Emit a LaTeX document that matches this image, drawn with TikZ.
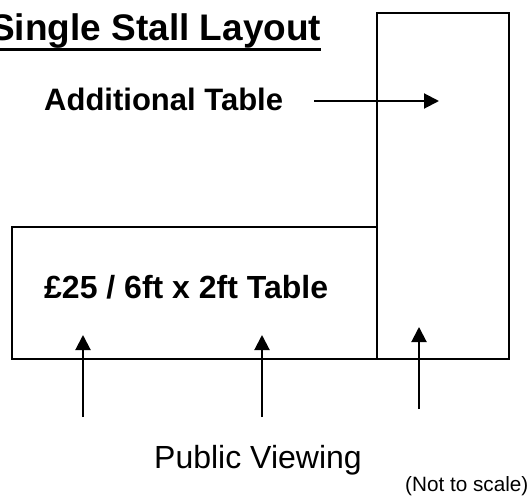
\documentclass[tikz,border=0pt]{standalone}
\usepackage{fontspec}
\setmainfont{Liberation Sans}
\usetikzlibrary{arrows.meta}

\begin{document}
\begin{tikzpicture}[x=1pt, y=-1pt,
    every node/.style={inner sep=0pt, anchor=base west},
    tablebox/.style={line width=2pt},
    pointer/.style={line width=2pt, -{Triangle[width=15pt,length=15pt]}},
    boldlabel/.style={font=\fontsize{32}{38}\selectfont\bfseries}]
  \useasboundingbox (0,0) rectangle (529,497);
  % title
  \node[font=\fontsize{37}{44}\selectfont\bfseries] (title) at (-10,40.5) {Single Stall Layout};
  \draw[line width=3pt] ([yshift=-9pt]title.base west) -- ([yshift=-9pt]title.base east);
  % tables
  \coordinate (wideNW) at (12,227);
  \coordinate (wideSE) at (377,359);
  \coordinate (tallNW) at (377,13);
  \coordinate (tallSE) at (509,359);
  \draw[tablebox] (wideNW) rectangle (wideSE);
  \draw[tablebox] (tallNW) rectangle (tallSE);
  % labels
  \node[font=\fontsize{31}{37}\selectfont\bfseries] (extra) at (44,111) {Additional Table};
  \node[boldlabel] (main) at (44,298) {£25 / 6ft x 2ft Table};
  \node[font=\fontsize{32}{38}\selectfont] (public) at (154,468) {Public Viewing};
  \node[font=\fontsize{20.7}{25}\selectfont] (note) at (405,491) {(Not to scale)};
  % pointer to the additional table
  \coordinate (extratip) at (439,101);
  \draw[pointer, shorten <=31pt] (extra.east |- extratip) -- (extratip);
  % viewing arrows
  \foreach \x/\yt/\yb [count=\i] in {83/335/417, 262/335/417, 419/327/409} {
    \coordinate (view\i) at (\x,\yb);
    \coordinate (tip\i) at (\x,\yt);
    \draw[pointer] (view\i) -- (tip\i);
  }
\end{tikzpicture}
\end{document}
